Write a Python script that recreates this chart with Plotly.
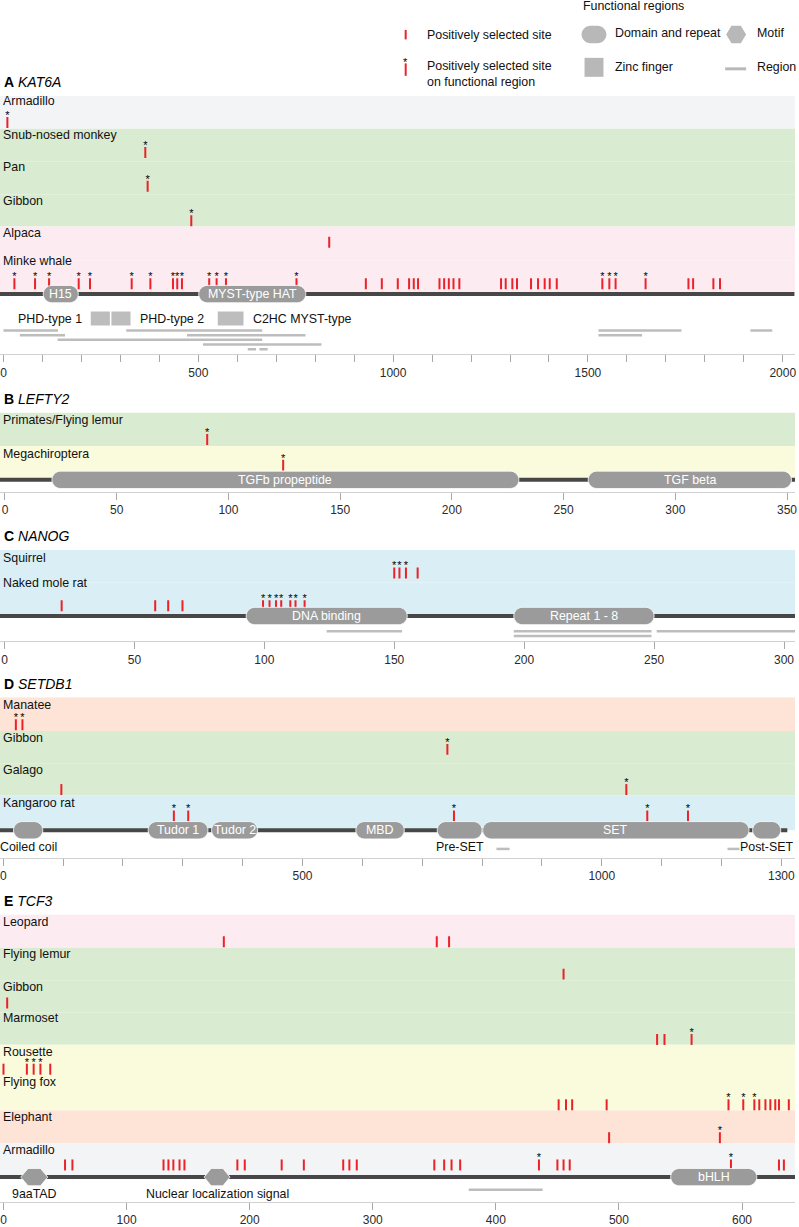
import plotly.graph_objects as go

W, H = 799, 1227
PLOT_R = 797
FONT = "Liberation Sans, Arial, Helvetica, sans-serif"
RED = "#ec2129"
PILL = "#9b9b9b"
LIGHT = "#bdbdbd"
LEG = "#b8b8b8"
BACKBONE = "#474747"
BAND = {"gray": "#f3f4f6", "green": "#d9ebd0", "pink": "#fcecf2",
        "yellow": "#fafadc", "blue": "#d9eff5", "peach": "#fde4d6"}

# ---------------- DATA ----------------
# A  KAT6A
A_species = ["Armadillo", "Snub-nosed monkey", "Pan", "Gibbon", "Alpaca", "Minke whale"]
A_band = ["gray", "green", "green", "green", "pink", "pink"]
A_sites = [[], [], [], [], [836],
           [930, 971, 1012, 1041, 1053, 1064, 1119, 1131, 1143, 1155, 1170,
            1277, 1289, 1306, 1318, 1354, 1372, 1389, 1402, 1420,
            1758, 1770, 1822, 1839]]
A_sites_func = [[10], [364], [370], [482], [],
                [28, 81, 117, 193, 222, 329, 377, 435, 446, 458, 528, 547, 571, 752,
                 1537, 1555, 1571, 1648]]
A_dom_name = ["H15", "MYST-type HAT"]
A_dom_start = [102, 501]
A_dom_end = [192, 776]
A_dom_kind = ["pill", "pill"]
A_dom_text = ["in", "in"]
A_zf_name = ["PHD-type 1", "PHD-type 2", "C2HC MYST-type"]
A_zf_start = [224, 277, 550]
A_zf_end = [273, 326, 616]
A_zf_side = ["left", "right", "right"]
A_reg_start = [0, 315, 1527, 1917, 42, 471, 1527, 139, 512, 627, 657]
A_reg_end = [140, 664, 1740, 1973, 158, 775, 1639, 664, 816, 648, 678]
A_reg_lane = [0, 0, 0, 0, 1, 1, 1, 2, 3, 4, 4]
A_length = 2030
A_ticks = dict(dtick=500, minor=100)

# B  LEFTY2
B_species = ["Primates/Flying lemur", "Megachiroptera"]
B_band = ["green", "yellow"]
B_sites = [[], []]
B_sites_func = [[90.5], [124.5]]
B_dom_name = ["TGFb propeptide", "TGF beta"]
B_dom_start = [21, 261]
B_dom_end = [230, 352]
B_dom_kind = ["pill", "pill"]
B_dom_text = ["in", "in"]
B_length = 366
B_ticks = dict(dtick=50)

# C  NANOG
C_species = ["Squirrel", "Naked mole rat"]
C_band = ["blue", "blue"]
C_sites = [[159], [22, 58, 63, 68.5]]
C_sites_func = [[150, 152, 154.5], [99.5, 102, 104.5, 106.5, 110, 112, 115.5]]
C_dom_name = ["DNA binding", "Repeat 1 - 8"]
C_dom_start = [93, 196]
C_dom_end = [155, 250]
C_dom_kind = ["pill", "pill"]
C_dom_text = ["in", "in"]
C_reg_start = [124, 196, 251, 196]
C_reg_end = [153, 249, 305, 249]
C_reg_lane = [0, 0, 0, 1]
C_length = 305
C_ticks = dict(dtick=50)

# D  SETDB1
D_species = ["Manatee", "Gibbon", "Galago", "Kangaroo rat"]
D_band = ["peach", "green", "green", "blue"]
D_sites = [[], [], [97], []]
D_sites_func = [[21, 32], [742], [1041], [285, 309, 753, 1076, 1144]]
D_dom_name = ["Coiled coil", "Tudor 1", "Tudor 2", "MBD", "Pre-SET", "SET", "Post-SET"]
D_dom_start = [17, 242, 348, 589, 725, 801, 1252]
D_dom_end = [66, 342, 425, 670, 800, 1246, 1299]
D_dom_kind = ["pill"] * 7
D_dom_text = ["below", "in", "in", "in", "below", "in", "below"]
D_reg_start = [824, 1210]
D_reg_end = [846, 1230]
D_reg_lane = [0, 0]
D_length = 1310
D_ticks = dict(tickvals=[0, 500, 1000, 1300], minor=100)

# E  TCF3
E_species = ["Leopard", "Flying lemur", "Gibbon", "Marmoset", "Rousette",
             "Flying fox", "Elephant", "Armadillo"]
E_band = ["pink", "green", "green", "green", "yellow", "yellow", "peach", "gray"]
E_sites = [[179, 352, 362], [455], [3], [531, 537], [0, 38],
           [451, 457, 462, 490, 614, 619, 623, 627, 630, 638],
           [492],
           [50, 56, 130, 134, 138, 143, 147, 190, 196, 226, 244, 276, 281, 287,
            350, 358, 364, 371, 450, 455, 460, 630, 634]]
E_sites_func = [[], [], [], [559], [19, 24.5, 30], [589, 601, 610], [582], [435, 591]]
E_dom_name = ["9aaTAD", "Nuclear localization signal", "bHLH"]
E_dom_start = [14, 163, 542]
E_dom_end = [36, 184, 612]
E_dom_kind = ["hex", "hex", "pill"]
E_dom_text = ["below", "below", "in"]
E_reg_start = [378]
E_reg_end = [438]
E_reg_lane = [0]
E_length = 650
E_ticks = dict(dtick=100)

PANELS = [
    dict(letter="A", gene="KAT6A", species=A_species, band=A_band, sites=A_sites,
         func=A_sites_func, dname=A_dom_name, ds=A_dom_start, de=A_dom_end,
         dkind=A_dom_kind, dtext=A_dom_text, zname=A_zf_name, zs=A_zf_start,
         ze=A_zf_end, zside=A_zf_side, rs=A_reg_start, re=A_reg_end,
         rl=A_reg_lane, length=A_length, ticks=A_ticks),
    dict(letter="B", gene="LEFTY2", species=B_species, band=B_band, sites=B_sites,
         func=B_sites_func, dname=B_dom_name, ds=B_dom_start, de=B_dom_end,
         dkind=B_dom_kind, dtext=B_dom_text, length=B_length, ticks=B_ticks),
    dict(letter="C", gene="NANOG", species=C_species, band=C_band, sites=C_sites,
         func=C_sites_func, dname=C_dom_name, ds=C_dom_start, de=C_dom_end,
         dkind=C_dom_kind, dtext=C_dom_text, rs=C_reg_start, re=C_reg_end,
         rl=C_reg_lane, length=C_length, ticks=C_ticks),
    dict(letter="D", gene="SETDB1", species=D_species, band=D_band, sites=D_sites,
         func=D_sites_func, dname=D_dom_name, ds=D_dom_start, de=D_dom_end,
         dkind=D_dom_kind, dtext=D_dom_text, rs=D_reg_start, re=D_reg_end,
         rl=D_reg_lane, length=D_length, ticks=D_ticks),
    dict(letter="E", gene="TCF3", species=E_species, band=E_band, sites=E_sites,
         func=E_sites_func, dname=E_dom_name, ds=E_dom_start, de=E_dom_end,
         dkind=E_dom_kind, dtext=E_dom_text, rs=E_reg_start, re=E_reg_end,
         rl=E_reg_lane, length=E_length, ticks=E_ticks),
]

# ---------------- LAYOUT GEOMETRY (page pixels; y axes are in pixels) ----------------
GEOM = [
    dict(title_y=82, band_top=[96, 129, 162, 195, 227, 261],
         label_y=[101.5, 135.5, 167, 201.5, 234, 261.5],
         tick_bot=[128.3, 158.3, 192.3, 226.7, 248.3, 290],
         backbone=294.8, axis=355, x0=3.5, pxu=0.3906, lane0=36.5),
    dict(title_y=400, band_top=[413.5, 447],
         label_y=[421.5, 455.5], tick_bot=[446, 472],
         backbone=481, axis=493, x0=5, pxu=2.24, lane0=15),
    dict(title_y=537, band_top=[551, 584],
         label_y=[559.3, 584.3], tick_bot=[580, 612.7],
         backbone=617.5, axis=642.7, x0=4.5, pxu=2.605, lane0=15.4),
    dict(title_y=686, band_top=[699, 732.7, 765, 797.3],
         label_y=[706.7, 740, 771.7, 805], tick_bot=[732, 756.7, 797, 823.5],
         backbone=832.3, axis=860, x0=3.3, pxu=0.6, lane0=18.7),
    dict(title_y=903, band_top=[916.7, 950, 982.6, 1015, 1047.3, 1080, 1113.3, 1146],
         label_y=[924, 956.7, 989.3, 1020, 1055, 1085, 1120, 1153.3],
         tick_bot=[949.5, 982, 1011, 1047.5, 1077.3, 1113, 1146, 1173.3],
         backbone=1180, axis=1205, x0=3.5, pxu=1.234, lane0=12.7),
]
LANE_GAP = 4.7
TICK_LEN = 11
PILL_HH = 8.7


def fmt(v):
    return f"{v:.5f}"


def round_path(x0, x1, yc, hy, rx, ry):
    k = 0.5523
    t, b = yc - hy, yc + hy
    return (f"M{fmt(x0+rx)},{fmt(t)} L{fmt(x1-rx)},{fmt(t)} "
            f"C{fmt(x1-rx+k*rx)},{fmt(t)} {fmt(x1)},{fmt(t+ry-k*ry)} {fmt(x1)},{fmt(t+ry)} "
            f"L{fmt(x1)},{fmt(b-ry)} "
            f"C{fmt(x1)},{fmt(b-ry+k*ry)} {fmt(x1-rx+k*rx)},{fmt(b)} {fmt(x1-rx)},{fmt(b)} "
            f"L{fmt(x0+rx)},{fmt(b)} "
            f"C{fmt(x0+rx-k*rx)},{fmt(b)} {fmt(x0)},{fmt(b-ry+k*ry)} {fmt(x0)},{fmt(b-ry)} "
            f"L{fmt(x0)},{fmt(t+ry)} "
            f"C{fmt(x0)},{fmt(t+ry-k*ry)} {fmt(x0+rx-k*rx)},{fmt(t)} {fmt(x0+rx)},{fmt(t)} Z")


def hex_path(x0, x1, yc, hy, ins):
    t, b = yc - hy, yc + hy
    return (f"M{fmt(x0)},{fmt(yc)} L{fmt(x0+ins)},{fmt(t)} L{fmt(x1-ins)},{fmt(t)} "
            f"L{fmt(x1)},{fmt(yc)} L{fmt(x1-ins)},{fmt(b)} L{fmt(x0+ins)},{fmt(b)} Z")


fig = go.Figure()
shapes = []
anns = []
layout_axes = {}

for i, (p, g) in enumerate(zip(PANELS, GEOM), start=1):
    xn = "x" if i == 1 else f"x{i}"
    yn = "y" if i == 1 else f"y{i}"
    n = len(p["species"])
    top = g["band_top"][0]
    bb = g["backbone"]
    xr = [-g["x0"] / g["pxu"], (PLOT_R - g["x0"]) / g["pxu"]]

    tk = p["ticks"]
    xax = dict(domain=[0, PLOT_R / W], anchor=yn, range=xr, showline=True,
               linecolor="#d0d0d0", linewidth=1, ticks="outside", ticklen=7,
               tickwidth=1, tickcolor="#a8a8a8", showgrid=False, zeroline=False,
               ticklabeloverflow="allow",
               tickfont=dict(size=12, color="#2a2a2a", family=FONT), fixedrange=True)
    if "tickvals" in tk:
        xax.update(tickmode="array", tickvals=tk["tickvals"],
                   ticktext=[str(v) for v in tk["tickvals"]])
    else:
        xax.update(tickmode="linear", tick0=0, dtick=tk["dtick"])
    if "minor" in tk:
        xax["minor"] = dict(tickmode="linear", tick0=0, dtick=tk["minor"], ticks="outside",
                            ticklen=7, tickwidth=1, tickcolor="#a8a8a8", showgrid=False)
    layout_axes["xaxis" if i == 1 else f"xaxis{i}"] = xax
    layout_axes["yaxis" if i == 1 else f"yaxis{i}"] = dict(
        domain=[1 - g["axis"] / H, 1 - top / H], anchor=xn, range=[g["axis"], top],
        visible=False, fixedrange=True)

    # background bands
    bounds = g["band_top"] + [bb]
    for k, b in enumerate(p["band"]):
        shapes.append(dict(type="rect", xref=f"{xn} domain", yref=yn, x0=0, x1=1,
                           y0=bounds[k], y1=bounds[k + 1], fillcolor=BAND[b],
                           line=dict(width=0), layer="below"))
    # title
    anns.append(dict(xref="paper", yref="paper", x=2 / W, y=1 - g["title_y"] / H,
                     xanchor="left", yanchor="middle", showarrow=False,
                     text=f"<b>{p['letter']}</b> <i>{p['gene']}</i>",
                     font=dict(size=14, color="#000", family=FONT)))
    # species labels
    for k, s in enumerate(p["species"]):
        anns.append(dict(xref="paper", yref=yn, x=1.5 / W, y=g["label_y"][k],
                         xanchor="left", yanchor="middle", showarrow=False, text=s,
                         font=dict(size=12.4, color="#111", family=FONT)))
    # red ticks and stars
    tx, ty, sx, sy = [], [], [], []
    for k in range(n):
        y_bot = g["tick_bot"][k]
        y_top = y_bot - TICK_LEN
        for v in p["sites"][k] + p["func"][k]:
            tx += [v, v, None]
            ty += [y_top, y_bot, None]
        for v in p["func"][k]:
            sx.append(v)
            sy.append(y_top - 0.9)
    fig.add_trace(go.Scatter(x=tx, y=ty, xaxis=xn, yaxis=yn, mode="lines",
                             line=dict(color=RED, width=2), hoverinfo="skip"))
    fig.add_trace(go.Scatter(x=sx, y=sy, xaxis=xn, yaxis=yn, mode="text",
                             text=["*"] * len(sx), textposition="middle center",
                             textfont=dict(size=11, color="#000", family=FONT),
                             hoverinfo="skip"))
    # backbone
    shapes.append(dict(type="line", xref=xn, yref=yn, x0=xr[0],
                       x1=min(p["length"], xr[1]), y0=bb, y1=bb,
                       line=dict(color=BACKBONE, width=4), layer="above"))
    # regions
    if "rs" in p:
        for s, e, l in zip(p["rs"], p["re"], p["rl"]):
            yl = bb + g["lane0"] + l * LANE_GAP
            shapes.append(dict(type="line", xref=xn, yref=yn, x0=s, x1=e, y0=yl, y1=yl,
                               line=dict(color=LIGHT, width=2.5), layer="above"))
    # zinc fingers
    if "zs" in p:
        yc = bb + 24.5
        for nm, s, e, side in zip(p["zname"], p["zs"], p["ze"], p["zside"]):
            shapes.append(dict(type="rect", xref=xn, yref=yn, x0=s, x1=e,
                               y0=yc - 7, y1=yc + 7, fillcolor=LIGHT,
                               line=dict(width=0), layer="above"))
            if side == "left":
                anns.append(dict(xref=xn, yref=yn, x=s, y=yc, xanchor="right",
                                 xshift=-7, yanchor="middle", showarrow=False, text=nm,
                                 font=dict(size=12.4, color="#111", family=FONT)))
            else:
                anns.append(dict(xref=xn, yref=yn, x=e, y=yc, xanchor="left",
                                 xshift=7, yanchor="middle", showarrow=False, text=nm,
                                 font=dict(size=12.4, color="#111", family=FONT)))
    # domains / motifs
    for nm, s, e, kind, where in zip(p["dname"], p["ds"], p["de"], p["dkind"], p["dtext"]):
        if kind == "pill":
            wpx = (e - s) * g["pxu"]
            r = min(PILL_HH, wpx / 2)
            path = round_path(s, e, bb, PILL_HH, r / g["pxu"], r)
        else:
            path = hex_path(s, e, bb, PILL_HH, 0.27 * (e - s))
        shapes.append(dict(type="path", xref=xn, yref=yn, path=path, fillcolor=PILL,
                           line=dict(color="white", width=0.8), layer="above"))
        if where == "in":
            anns.append(dict(xref=xn, yref=yn, x=(s + e) / 2, y=bb, xanchor="center",
                             yanchor="middle", showarrow=False, text=nm,
                             font=dict(size=12.4, color="white", family=FONT)))
        else:
            anns.append(dict(xref=xn, yref=yn, x=(s + e) / 2, y=bb + 17,
                             xanchor="center", yanchor="middle", showarrow=False, text=nm,
                             font=dict(size=12.4, color="#111", family=FONT)))

# ---------------- LEGEND ----------------
def px(x):
    return x / W


def py(y):
    return 1 - y / H


def leg_text(x, y, t):
    anns.append(dict(xref="paper", yref="paper", x=px(x), y=py(y), xanchor="left",
                     yanchor="middle", showarrow=False, text=t, align="left",
                     font=dict(size=12.4, color="#111", family=FONT)))


leg_text(582, 6, "Functional regions")
shapes.append(dict(type="line", xref="paper", yref="paper", x0=px(406.7), x1=px(406.7),
                   y0=py(30), y1=py(39.5), line=dict(color=RED, width=2)))
leg_text(426, 35, "Positively selected site")
shapes.append(dict(type="line", xref="paper", yref="paper", x0=px(406.7), x1=px(406.7),
                   y0=py(63.5), y1=py(76), line=dict(color=RED, width=2)))
anns.append(dict(xref="paper", yref="paper", x=px(406.7), y=py(62), xanchor="center",
                 yanchor="middle", showarrow=False, text="*",
                 font=dict(size=11, color="#000", family=FONT)))
leg_text(426, 74, "Positively selected site<br>on functional region")
shapes.append(dict(type="path", xref="paper", yref="paper", fillcolor=LEG,
                   line=dict(width=0),
                   path=round_path(px(583), px(608), py(34.6), 8.7 / H, 9 / W, 9 / H)))
leg_text(615, 33.5, "Domain and repeat")
shapes.append(dict(type="path", xref="paper", yref="paper", fillcolor=LEG,
                   line=dict(width=0),
                   path=hex_path(px(728), px(748), py(34.6), 8.7 / H, 5.3 / W)))
leg_text(757, 33.5, "Motif")
shapes.append(dict(type="rect", xref="paper", yref="paper", x0=px(586), x1=px(605),
                   y0=py(58), y1=py(77), fillcolor=LEG, line=dict(width=0)))
leg_text(615, 66.7, "Zinc finger")
shapes.append(dict(type="line", xref="paper", yref="paper", x0=px(727), x1=px(748),
                   y0=py(69), y1=py(69), line=dict(color=LEG, width=3)))
leg_text(757, 66.7, "Region")

fig.update_layout(width=W, height=H, margin=dict(l=0, r=0, t=0, b=0),
                  paper_bgcolor="white", plot_bgcolor="white", showlegend=False,
                  shapes=shapes, annotations=anns, font=dict(family=FONT),
                  **layout_axes)
fig.write_html("out.html", config={"displayModeBar": False},
               post_script="document.body.style.margin='0';"
                           "document.body.style.padding='0';"
                           "document.body.style.overflow='hidden';"
                           "document.documentElement.style.overflow='hidden';")
